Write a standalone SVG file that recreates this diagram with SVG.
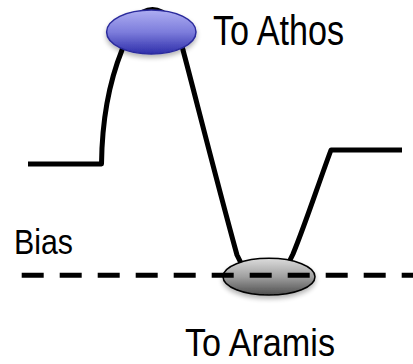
<svg xmlns="http://www.w3.org/2000/svg" width="413" height="364" viewBox="0 0 413 364">
  <style>
    .lbl { font-family: "Liberation Sans", Arial, sans-serif; fill: #000; }
    .curve { fill: none; stroke: #000; stroke-width: 5; stroke-linejoin: round; }
    .bias { stroke: #000; stroke-width: 5; stroke-dasharray: 22 16; }
  </style>
  <defs>
    <linearGradient id="gBlue" x1="0" y1="0" x2="0" y2="1">
      <stop offset="0" stop-color="#aeaef2"/>
      <stop offset="0.5" stop-color="#7d7ddc"/>
      <stop offset="1" stop-color="#2e2eaa"/>
    </linearGradient>
    <linearGradient id="gGray" x1="0" y1="0" x2="0" y2="1">
      <stop offset="0" stop-color="#dcdcdc"/>
      <stop offset="0.5" stop-color="#a0a0a0"/>
      <stop offset="1" stop-color="#4e4e4e"/>
    </linearGradient>
    <filter id="shadow" x="-20%" y="-30%" width="140%" height="170%">
      <feGaussianBlur in="SourceAlpha" stdDeviation="2.5"/>
      <feOffset dx="0" dy="3" result="b"/>
      <feComponentTransfer><feFuncA type="linear" slope="0.3"/></feComponentTransfer>
      <feMerge><feMergeNode/><feMergeNode in="SourceGraphic"/></feMerge>
    </filter>
  </defs>

  <g id="connectors">
    <path id="potential" class="curve" d="M 28 164 H 101.5 C 102 120, 108 85, 122 50 C 133 -4, 172 -4, 183 50 C 195 95, 215 175, 237 255 Q 265 315 293 254 C 305 225, 318 185, 331 150 H 402"/>
  </g>

  <g id="athos">
    <ellipse cx="151.3" cy="32" rx="44.7" ry="22" fill="url(#gBlue)" stroke="#2a2a9c" stroke-width="1.5" filter="url(#shadow)"/>
    <text class="lbl" x="213" y="45" font-size="42" textLength="131" lengthAdjust="spacingAndGlyphs">To Athos</text>
  </g>

  <g id="aramis">
    <ellipse cx="269" cy="276.7" rx="46" ry="18.4" fill="url(#gGray)" stroke="#000" stroke-width="1.5" filter="url(#shadow)"/>
    <text class="lbl" x="185" y="356" font-size="38" textLength="150" lengthAdjust="spacingAndGlyphs">To Aramis</text>
  </g>

  <g id="bias">
    <line class="bias" x1="21.7" y1="275.3" x2="413" y2="275.3"/>
    <text class="lbl" x="14" y="253.5" font-size="35" textLength="59" lengthAdjust="spacingAndGlyphs">Bias</text>
  </g>
</svg>
